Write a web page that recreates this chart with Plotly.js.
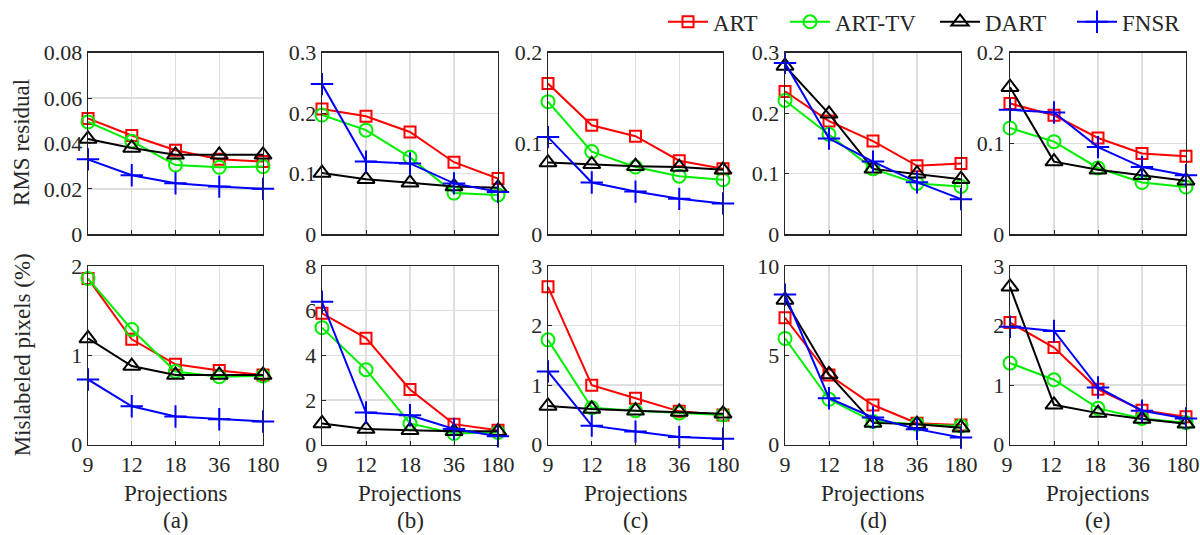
<!DOCTYPE html>
<html><head><meta charset="utf-8">
<script src="https://cdn.plot.ly/plotly-3.0.1.min.js"></script>
<style>html,body{margin:0;padding:0;background:#fff}#chart{width:1200px;height:535px}</style>
</head><body><div id="chart"></div>
<script>
const projections = ['9', '12', '18', '36', '180'];
const methods = ['ART', 'ART-TV', 'DART', 'FNSR'];
const panelLabels = ['(a)', '(b)', '(c)', '(d)', '(e)'];

// RMS residual, one row per panel (a)-(e)
const rmsART   = [[0.051,0.0435,0.037,0.033,0.032],[0.207,0.195,0.169,0.119,0.092],[0.166,0.120,0.108,0.081,0.072],[0.236,0.187,0.154,0.113,0.117],[0.144,0.131,0.106,0.089,0.086]];
const rmsARTTV = [[0.0495,0.041,0.0305,0.0295,0.0298],[0.197,0.172,0.127,0.068,0.065],[0.146,0.091,0.074,0.064,0.060],[0.221,0.165,0.108,0.084,0.079],[0.117,0.102,0.073,0.057,0.052]];
const rmsDART  = [[0.042,0.038,0.035,0.035,0.035],[0.101,0.091,0.085,0.079,0.077],[0.079,0.077,0.075,0.074,0.071],[0.278,0.199,0.108,0.100,0.091],[0.162,0.080,0.071,0.065,0.059]];
const rmsFNSR  = [[0.033,0.026,0.0225,0.021,0.020],[0.248,0.120,0.117,0.084,0.070],[0.107,0.057,0.047,0.039,0.034],[0.283,0.158,0.120,0.086,0.058],[0.137,0.134,0.096,0.074,0.065]];

// Mislabeled pixels (%), one row per panel (a)-(e)
const misART   = [[1.86,1.18,0.90,0.83,0.78],[5.88,4.77,2.47,0.92,0.65],[2.65,1.00,0.78,0.56,0.50],[7.1,3.9,2.22,1.2,1.1],[2.05,1.63,0.93,0.58,0.47]];
const misARTTV = [[1.86,1.29,0.82,0.76,0.77],[5.24,3.36,0.95,0.50,0.55],[1.76,0.62,0.57,0.53,0.50],[5.95,2.54,1.3,1.15,1.05],[1.37,1.09,0.61,0.44,0.37]];
const misDART  = [[1.19,0.88,0.78,0.78,0.78],[0.95,0.70,0.65,0.60,0.60],[0.65,0.60,0.57,0.55,0.52],[8.1,3.93,1.22,1.15,0.95],[2.65,0.67,0.53,0.43,0.35]];
const misFNSR  = [[0.73,0.43,0.315,0.285,0.26],[6.4,1.44,1.32,0.70,0.38],[1.23,0.32,0.22,0.13,0.10],[8.4,2.6,1.52,0.87,0.40],[1.98,1.91,0.96,0.57,0.44]];

const rmsTicks = [[0,0.02,0.04,0.06,0.08],[0,0.1,0.2,0.3],[0,0.1,0.2],[0,0.1,0.2,0.3],[0,0.1,0.2]];
const misTicks = [[0,1,2],[0,2,4,6,8],[0,1,2,3],[0,5,10],[0,1,2,3]];

const rmsSeries = [rmsART, rmsARTTV, rmsDART, rmsFNSR];
const misSeries = [misART, misARTTV, misDART, misFNSR];

const styles = [
  {color:'#ff0000', symbol:'square-open', size:11},
  {color:'#00ee00', symbol:'circle-open', size:13},
  {color:'#000000', symbol:'triangle-up-open', size:15},
  {color:'#0000ff', symbol:'cross-thin-open', size:16}
];

const W = 1200, H = 535;
const colPx = [[88,263],[322,498],[548,723],[785,961],[1010,1186]];
const topPx = [49,232], botPx = [264,444];
const legendLeftPx = [663, 785, 935, 1072];
const FONT = 'Liberation Serif';
const FS = 23, TFS = 22;
const TXT = '#262626';
const legendIds = ['legend', 'legend2', 'legend3', 'legend4'];

const data = [];
const layout = {
  width: W, height: H,
  margin: {l:0, r:0, t:0, b:0},
  paper_bgcolor: '#ffffff', plot_bgcolor: '#ffffff',
  font: {family: FONT, size: FS, color: TXT},
  showlegend: true,
  annotations: []
};
legendIds.forEach((id, i) => {
  layout[id] = {orientation:'h', x: legendLeftPx[i]/W, xanchor:'left', y:(H-18)/H, yanchor:'middle',
    font:{family:FONT, size:FS, color:TXT}, itemwidth:40, bgcolor:'rgba(0,0,0,0)'};
});

function axisCommon() {
  return {showline:true, mirror:true, linecolor:TXT, linewidth:1.3, showgrid:true, gridcolor:'#dedede', gridwidth:1.3,
          zeroline:false, ticks:'inside', ticklen:4, tickcolor:TXT, tickfont:{family:FONT, size:TFS, color:TXT}, fixedrange:true};
}

for (let row = 0; row < 2; row++) {
  const series = row === 0 ? rmsSeries : misSeries;
  const tickSets = row === 0 ? rmsTicks : misTicks;
  const ypx = row === 0 ? topPx : botPx;
  for (let c = 0; c < 5; c++) {
    const n = row*5 + c + 1;
    const xn = n === 1 ? 'x' : 'x'+n, yn = n === 1 ? 'y' : 'y'+n;
    const xk = n === 1 ? 'xaxis' : 'xaxis'+n, yk = n === 1 ? 'yaxis' : 'yaxis'+n;
    const ticks = tickSets[c];
    layout[xk] = Object.assign(axisCommon(), {
      domain: [colPx[c][0]/W, colPx[c][1]/W], anchor: yn, type:'category',
      range: [0, projections.length-1], showticklabels: row === 1,
      categoryorder:'array', categoryarray: projections
    });
    layout[yk] = Object.assign(axisCommon(), {
      domain: [(H-ypx[1])/H, (H-ypx[0])/H], anchor: xn,
      range: [ticks[0], ticks[ticks.length-1]], tickvals: ticks, ticktext: ticks.map(String), tickmode:'array'
    });
    for (let m = 0; m < 4; m++) {
      const st = styles[m];
      data.push({
        type:'scatter', mode:'lines+markers', x: projections, y: series[m][c],
        xaxis: xn, yaxis: yn, name: methods[m], legendgroup: methods[m], legend: legendIds[m],
        showlegend: n === 1, cliponaxis: false,
        line: {color: st.color, width: 2},
        marker: {symbol: st.symbol, size: st.size, color: st.color, line:{color: st.color, width: 2}}
      });
    }
    if (row === 1) {
      const cx = (colPx[c][0] + colPx[c][1]) / 2 / W;
      layout.annotations.push({text:'Projections', xref:'paper', yref:'paper', x:cx, y:(H-493)/H, showarrow:false,
        xanchor:'center', yanchor:'middle', font:{family:FONT, size:FS, color:TXT}});
      layout.annotations.push({text:panelLabels[c], xref:'paper', yref:'paper', x:cx, y:(H-520)/H, showarrow:false,
        xanchor:'center', yanchor:'middle', font:{family:FONT, size:FS, color:TXT}});
    }
  }
}
layout.xaxis10.ticklabelshift = -3;
layout.annotations.push({text:'RMS residual', xref:'paper', yref:'paper', x:22/W, y:(H-140)/H, textangle:-90,
  showarrow:false, xanchor:'center', yanchor:'middle', font:{family:FONT, size:FS, color:TXT}});
layout.annotations.push({text:'Mislabeled pixels (%)', xref:'paper', yref:'paper', x:22/W, y:(H-354)/H, textangle:-90,
  showarrow:false, xanchor:'center', yanchor:'middle', font:{family:FONT, size:FS, color:TXT}});

Plotly.newPlot('chart', data, layout, {staticPlot:true});
</script></body></html>
